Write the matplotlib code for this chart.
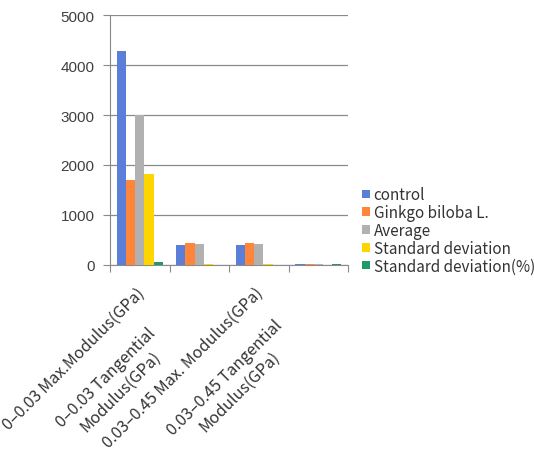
import numpy as np
import matplotlib
matplotlib.use('Agg')
import matplotlib.pyplot as plt

categories = ['0–0.03 Max.Modulus(GPa)',
              '0–0.03 Tangential\nModulus(GPa)',
              '0.03–0.45 Max. Modulus(GPa)',
              '0.03–0.45 Tangential\nModulus(GPa)']
series = ['control', 'Ginkgo biloba L.', 'Average', 'Standard deviation', 'Standard deviation(%)']
control = [4280, 400, 400, 8]
ginkgo = [1700, 440, 440, 12]
average = [3000, 420, 420, 10]
std_dev = [1820, 25, 25, 2]
std_pct = [50, 3, 3, 8]
colors = ['#5b7fd8', '#fe8539', '#b1b1b1', '#ffd500', '#20986a']

values = [control, ginkgo, average, std_dev, std_pct]
label_font = ['Noto Sans CJK KR', 'DejaVu Sans']

fig = plt.figure(figsize=(5.34, 4.60), dpi=100)
ax = fig.add_axes([0.206, 0.422, 0.446, 0.543])

x = np.arange(len(categories))
w = 0.155
for i, (name, vals, c) in enumerate(zip(series, values, colors)):
    ax.bar(x + (i - 2) * w, vals, w, color=c, label=name, zorder=3)

ax.set_xlim(-0.5, len(categories) - 0.5)
ax.set_ylim(0, 5000)
ax.set_yticks(range(0, 5001, 1000))
ax.yaxis.grid(True, color='#8a8a8a', linewidth=0.9, zorder=0)
for s in ['top', 'right']:
    ax.spines[s].set_visible(False)
ax.spines['left'].set_color('#8a8a8a')
ax.spines['bottom'].set_color('#8a8a8a')
ax.tick_params(axis='y', length=5, color='#8a8a8a', labelsize=11, pad=6)
for lab in ax.get_yticklabels():
    lab.set_family('Liberation Sans')
    lab.set_color('#404040')

# ticks between categories, rotated labels hung below each centre
ax.set_xticks(np.arange(-0.5, len(categories)))
ax.set_xticklabels([])
ax.tick_params(axis='x', length=5, color='#8a8a8a')
px = 0.72           # points per pixel at 100 dpi
wrap_half = 95      # half of wrapped label box along each screen axis, px
for xi, lab in zip(x, categories):
    if '\n' in lab:
        off = ((9 - wrap_half) * px, -(24 + wrap_half) * px)
        ha = 'center'
    else:
        off = (2 * px, -25 * px)
        ha = 'right'
    ax.annotate(lab, xy=(xi, 0), xycoords=('data', 'axes fraction'),
                xytext=off, textcoords='offset points',
                rotation=45, ha=ha, va='center', rotation_mode='anchor',
                multialignment='center', linespacing=1.25,
                fontsize=11.6, color='#333333', family=label_font)

ax.legend(loc='center left', bbox_to_anchor=(1.059, 0.138), frameon=False,
          handlelength=0.5, handleheight=0.5, handletextpad=0.25,
          labelspacing=0.05, borderaxespad=0, borderpad=0,
          prop={'family': label_font, 'size': 11})
for t in ax.get_legend().get_texts():
    t.set_color('#333333')

fig.savefig('out.png', dpi=100)
